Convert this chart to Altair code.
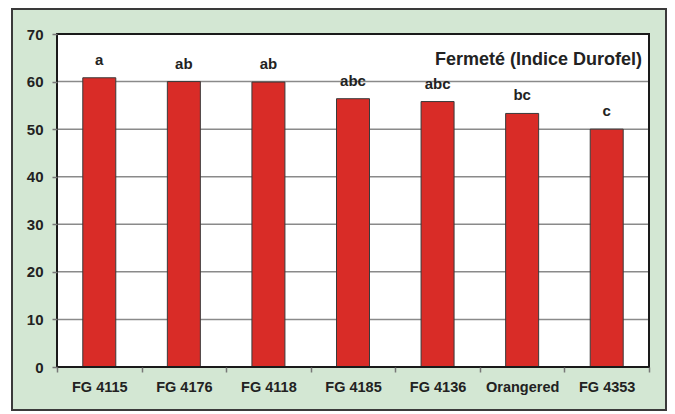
import altair as alt
import pandas as pd

cultivars = ["FG 4115", "FG 4176", "FG 4118", "FG 4185", "FG 4136", "Orangered", "FG 4353"]
fermete = [60.8, 60.0, 59.9, 56.4, 55.8, 53.3, 50.0]
groups = ["a", "ab", "ab", "abc", "abc", "bc", "c"]
y_ticks = [0, 10, 20, 30, 40, 50, 60, 70]
grid_values = [10, 20, 30, 40, 50, 60]
title_text = "Fermeté (Indice Durofel)"

FONT = "Liberation Sans"
W, H = 592, 333

df = pd.DataFrame({"cultivar": cultivars, "fermete": fermete, "groupe": groups})
grid_df = pd.DataFrame({"fermete": grid_values})
one = pd.DataFrame({"k": [0]})

yscale = alt.Scale(domain=[0, 70], nice=False)
xscale = alt.Scale(paddingInner=0, paddingOuter=0)

y_axis = alt.Axis(title=None, values=y_ticks, grid=False, domain=False, tickSize=5,
                  tickColor="#777777", tickWidth=1.5, labelPadding=9,
                  labelFont=FONT, labelFontSize=15, labelFontWeight="bold",
                  labelColor="#222222", zindex=1)
x_axis = alt.Axis(title=None, tickBand="extent", grid=False, domain=False, tickSize=5,
                  tickColor="#777777", tickWidth=1.5, labelAngle=0, labelPadding=8,
                  labelFont=FONT, labelFontSize=14.5, labelFontWeight="bold",
                  labelColor="#222222", zindex=1)

frame = alt.Chart(one).mark_rect(fill="#d3e7d3", stroke="#3a3a3a", strokeWidth=2).encode(
    x=alt.value(-45), x2=alt.value(609), y=alt.value(-25), y2=alt.value(376)
)
plotbg = alt.Chart(one).mark_rect(fill="white").encode(
    x=alt.value(0), x2=alt.value(W), y=alt.value(0), y2=alt.value(H)
)
grid = alt.Chart(grid_df).mark_rule(color="#8a8a8a", strokeWidth=1.5).encode(
    y=alt.Y("fermete:Q", scale=yscale, axis=y_axis)
)

bars = alt.Chart(df).mark_bar(size=33, color="#d92c27", stroke="#3a3a3a", strokeWidth=1).encode(
    x=alt.X("cultivar:N", sort=cultivars, scale=xscale, axis=x_axis),
    y=alt.Y("fermete:Q", scale=yscale, axis=y_axis),
)

letters = alt.Chart(df).mark_text(dy=-10, baseline="bottom", font=FONT, fontSize=15,
                                   fontWeight="bold", color="#222222").encode(
    x=alt.X("cultivar:N", sort=cultivars, scale=xscale, axis=x_axis),
    y=alt.Y("fermete:Q", scale=yscale, axis=y_axis),
    text="groupe:N",
)

title = alt.Chart(one).mark_text(align="right", baseline="alphabetic", font=FONT, fontSize=18,
                                 fontWeight="bold", color="#222222").encode(
    x=alt.value(585), y=alt.value(31), text=alt.value(title_text)
)

border = alt.Chart(one).mark_rect(fill="white", fillOpacity=0, stroke="#1a1a1a", strokeWidth=2).encode(
    x=alt.value(0), x2=alt.value(W), y=alt.value(0), y2=alt.value(H)
)

chart = alt.layer(frame, plotbg, grid, bars, letters, title, border).properties(
    width=W, height=H,
    autosize=alt.AutoSizeParams(type="none"),
    padding={"left": 49, "top": 26, "right": 18, "bottom": 45},
    background="white",
).configure_view(stroke=None)

chart.save("out.html", embed_options={"renderer": "svg", "actions": False})
